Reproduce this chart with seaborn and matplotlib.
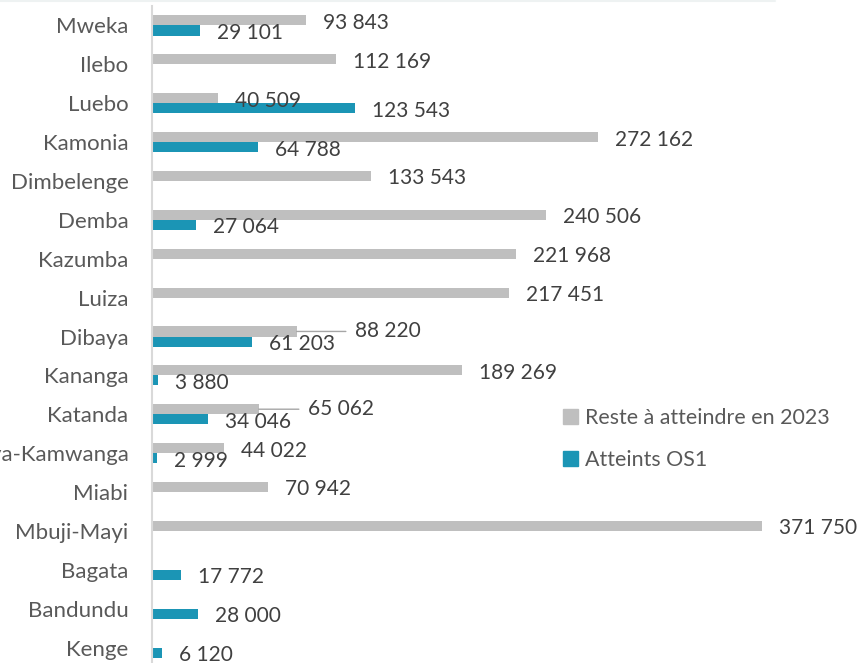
import numpy as np
import pandas as pd
import matplotlib
matplotlib.use("Agg")
import matplotlib.pyplot as plt
from matplotlib.patches import Patch
import seaborn as sns

# Data (None = no bar)
communes = ['Mweka', 'Ilebo', 'Luebo', 'Kamonia', 'Dimbelenge', 'Demba', 'Kazumba',
            'Luiza', 'Dibaya', 'Kananga', 'Katanda', 'Kabeya-Kamwanga', 'Miabi',
            'Mbuji-Mayi', 'Bagata', 'Bandundu', 'Kenge']
reste_2023 = [93843, 112169, 40509, 272162, 133543, 240506, 221968,
              217451, 88220, 189269, 65062, 44022, 70942,
              371750, None, None, None]
atteints_os1 = [29101, None, 123543, 64788, None, 27064, None,
                None, 61203, 3880, 34046, 2999, None,
                None, 17772, 28000, 6120]
series = ['Reste à atteindre en 2023', 'Atteints OS1']
colors = ['#BFBFBF', '#1B95B5']

df = pd.DataFrame({'commune': communes * 2,
                   'serie': [series[0]] * len(communes) + [series[1]] * len(communes),
                   'valeur': reste_2023 + atteints_os1}).dropna()

sns.set_style('white')
plt.rcParams['font.family'] = ['Lato', 'DejaVu Sans']

fig = plt.figure(figsize=(8.59, 6.63), dpi=100)
ax = fig.add_axes([152 / 859, -4 / 663, 707 / 859, 661 / 663])

sns.barplot(data=df, y='commune', x='valeur', hue='serie', order=communes,
            hue_order=series, palette=colors, saturation=1, orient='h', width=0.52,
            errorbar=None, linewidth=0, legend=False, ax=ax)

ax.set_xlim(0, 431100)
ax.set_ylim(len(communes) - 0.5, -0.5)
ax.set_xlabel('')
ax.set_ylabel('')
ax.set_xticks([])
ax.tick_params(axis='y', length=0, pad=17, labelsize=16, labelcolor='#595959')
for s in ['top', 'right', 'bottom']:
    ax.spines[s].set_visible(False)
ax.spines['left'].set_color('#D9D9D9')
ax.spines['left'].set_linewidth(1.5)

# labels that Excel pushed out with a leader line
leader = {('Dibaya', 0): 58, ('Katanda', 0): 49}

for k, cont in enumerate(ax.containers):
    for bar in cont:
        w = bar.get_width()
        if not np.isfinite(w) or w <= 0:
            continue
        yc = bar.get_y() + bar.get_height() / 2
        name = communes[int(round(yc))]
        txt = f"{w:,.0f}".replace(",", " ")
        kw = {}
        if (name, k) in leader:
            off = (leader[(name, k)], 0)
            kw['arrowprops'] = dict(arrowstyle='-', color='#A6A6A6', lw=1,
                                    shrinkA=4, shrinkB=0)
        else:
            off = (17, -2.5)
        ax.annotate(txt, xy=(w, yc), xytext=off, textcoords='offset pixels',
                    ha='left', va='center', fontsize=15, color='#404040',
                    annotation_clip=False, **kw)

handles = [Patch(color=c, label=s) for c, s in zip(colors, series)]
fig.legend(handles=handles, loc='upper left', bbox_to_anchor=(552 / 859, 1 - 397 / 663),
           bbox_transform=fig.transFigure, frameon=False, fontsize=15.4,
           handlelength=0.7, handleheight=0.7, handletextpad=0.35,
           labelspacing=1.05, borderpad=0, labelcolor='#595959')

# faint border line at the top of the chart area
fig.add_artist(plt.Line2D([0, 775 / 859], [0.999, 0.999], color='#EEF2F2', lw=1.5))

fig.savefig('out.png', dpi=100)
